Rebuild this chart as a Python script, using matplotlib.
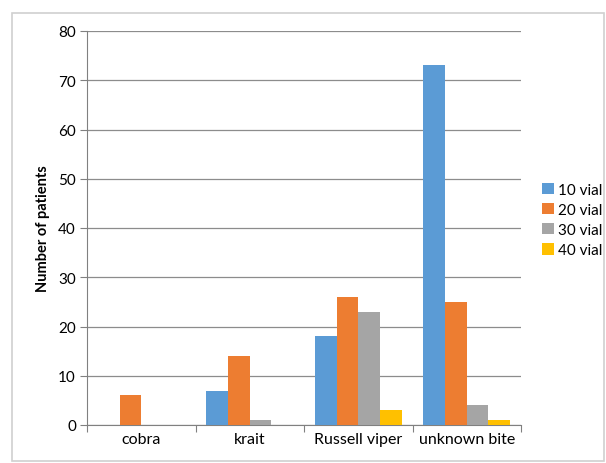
import matplotlib
matplotlib.use("Agg")
import matplotlib.pyplot as plt
import numpy as np
from matplotlib.patches import Rectangle

categories = ["cobra", "krait", "Russell viper", "unknown bite"]
series = ["10 vial", "20 vial", "30 vial", "40 vial"]
vial_10 = [0, 7, 18, 73]
vial_20 = [6, 14, 26, 25]
vial_30 = [0, 1, 23, 4]
vial_40 = [0, 0, 3, 1]
colors = ["#5B9BD5", "#ED7D31", "#A5A5A5", "#FFC000"]

plt.rcParams["font.family"] = ["Lato", "DejaVu Sans"]

fig = plt.figure(figsize=(6.06, 4.64), dpi=100)
fig.add_artist(Rectangle((12 / 606, 2 / 464), 592 / 606, 448 / 464,
                         transform=fig.transFigure, fill=False,
                         edgecolor="#d0d0d0", linewidth=1.2))
ax = fig.add_axes([87 / 606, 38 / 464, 434 / 606, 394 / 464])

x = np.arange(len(categories))
width = 0.2
for i, (name, vals) in enumerate(zip(series, [vial_10, vial_20, vial_30, vial_40])):
    ax.bar(x + (i - 1.5) * width, vals, width, color=colors[i], label=name, zorder=3)

ax.set_xlim(-0.5, len(categories) - 0.5)
ax.set_ylim(0, 80)
ax.set_yticks(range(0, 81, 10))
# group separators as major ticks, category names on minor ticks
ax.set_xticks(np.arange(-0.5, len(categories), 1.0))
ax.set_xticklabels([])
ax.set_xticks(x, minor=True)
ax.set_xticklabels(categories, minor=True, fontsize=11.5)
ax.tick_params(axis="x", which="minor", length=0, pad=5)
ax.tick_params(axis="x", which="major", length=5, color="#808080", direction="out")
ax.tick_params(axis="y", length=5, color="#808080", labelsize=11, pad=3)
ax.grid(axis="y", color="#8c8c8c", linewidth=0.9, zorder=0)
for side in ["top", "right"]:
    ax.spines[side].set_visible(False)
ax.spines["left"].set_color("#808080")
ax.spines["bottom"].set_color("#808080")
ax.set_ylabel("Number of patients", fontsize=10.5, fontweight="bold", labelpad=6)

ax.legend(loc="center left", bbox_to_anchor=(1.035, 0.52), frameon=False,
          fontsize=11, handlelength=0.75, handleheight=0.75, handletextpad=0.25,
          labelspacing=0.4, borderaxespad=0)

fig.savefig("out.png", dpi=100, facecolor="white")
